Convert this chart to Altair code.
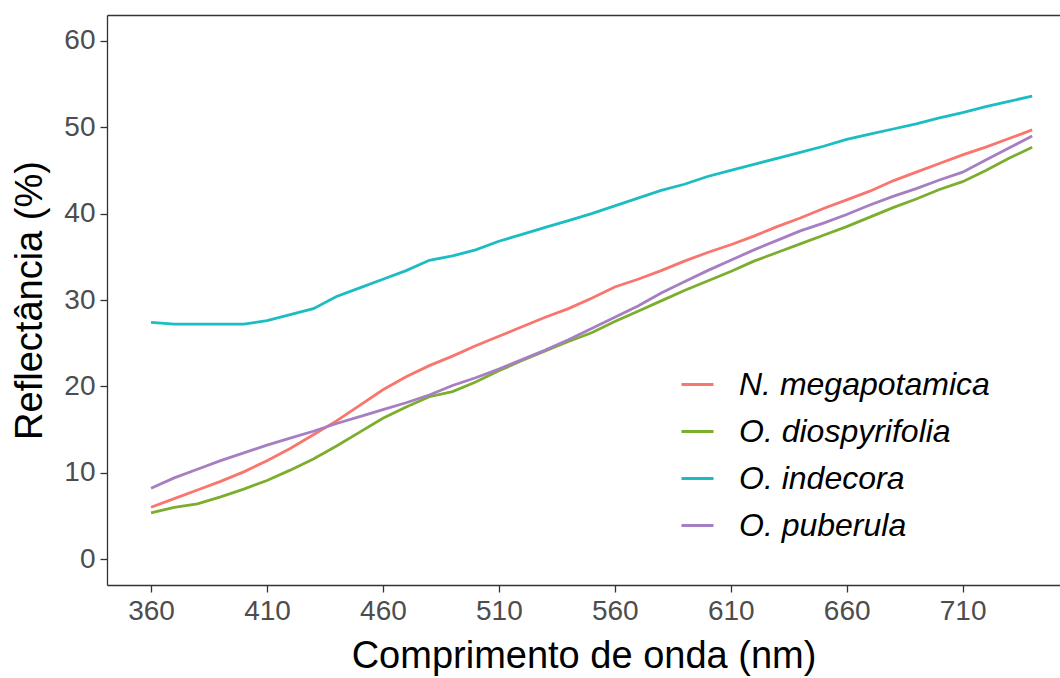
import altair as alt
import pandas as pd

nm = [360, 370, 380, 390, 400, 410, 420, 430, 440, 450, 460, 470, 480, 490, 500,
      510, 520, 530, 540, 550, 560, 570, 580, 590, 600, 610, 620, 630, 640, 650,
      660, 670, 680, 690, 700, 710, 720, 730, 740]

species = ["N. megapotamica", "O. diospyrifolia", "O. indecora", "O. puberula"]
colors = ["#F8766D", "#7CAE2E", "#1CBDC2", "#A67FC3"]

megapotamica = [6.0, 7.0, 8.0, 9.0, 10.1, 11.4, 12.8, 14.4, 16.0, 17.8, 19.6, 21.1, 22.4, 23.5, 24.7,
                25.8, 26.9, 28.0, 29.0, 30.2, 31.5, 32.4, 33.4, 34.5, 35.5, 36.4, 37.4, 38.5, 39.5, 40.6,
                41.6, 42.6, 43.8, 44.8, 45.8, 46.8, 47.7, 48.7, 49.7]
diospyrifolia = [5.35, 6.0, 6.4, 7.2, 8.1, 9.1, 10.3, 11.6, 13.1, 14.7, 16.3, 17.6, 18.8, 19.4, 20.5,
                 21.8, 23.0, 24.1, 25.2, 26.2, 27.5, 28.7, 29.9, 31.1, 32.2, 33.3, 34.5, 35.5, 36.5, 37.5,
                 38.5, 39.6, 40.7, 41.7, 42.8, 43.7, 45.0, 46.4, 47.7]
indecora = [27.4, 27.2, 27.2, 27.2, 27.2, 27.6, 28.3, 29.0, 30.4, 31.4, 32.4, 33.4, 34.6, 35.1, 35.8,
            36.8, 37.6, 38.4, 39.2, 40.0, 40.9, 41.8, 42.7, 43.4, 44.3, 45.0, 45.7, 46.4, 47.1, 47.8,
            48.6, 49.2, 49.8, 50.4, 51.1, 51.7, 52.4, 53.0, 53.6]
puberula = [8.2, 9.4, 10.4, 11.4, 12.3, 13.2, 14.0, 14.8, 15.7, 16.5, 17.3, 18.1, 19.0, 20.1, 21.0,
            22.0, 23.1, 24.2, 25.4, 26.7, 28.0, 29.3, 30.8, 32.1, 33.4, 34.6, 35.8, 36.9, 38.0, 38.9,
            39.9, 41.0, 42.0, 42.9, 43.9, 44.8, 46.2, 47.6, 49.0]

x_ticks = [360, 410, 460, 510, 560, 610, 660, 710]
y_ticks = [0, 10, 20, 30, 40, 50, 60]

rows = []
for sp, vals in zip(species, [megapotamica, diospyrifolia, indecora, puberula]):
    for w, v in zip(nm, vals):
        rows.append({"nm": w, "val": v, "sp": sp})
df = pd.DataFrame(rows)

FONT = "Liberation Sans"
xscale = alt.Scale(domain=[341, 752], nice=False, zero=False)
yscale = alt.Scale(domain=[-3, 63], nice=False, zero=False)

lines = alt.Chart(df).mark_line(strokeWidth=2.8).encode(
    x=alt.X("nm:Q", scale=xscale,
            axis=alt.Axis(values=x_ticks, title="Comprimento de onda (nm)", grid=False,
                          tickSize=7, labelPadding=5, titlePadding=12)),
    y=alt.Y("val:Q", scale=yscale,
            axis=alt.Axis(values=y_ticks, title="Reflectância (%)", grid=False,
                          tickSize=7, labelPadding=5, titlePadding=14)),
    color=alt.Color("sp:N", scale=alt.Scale(domain=species, range=colors),
                    legend=alt.Legend(title=None, orient="none", legendX=573, legendY=352,
                                      symbolType="stroke", symbolSize=1024, symbolStrokeWidth=3,
                                      labelFontSize=32, labelFontStyle="italic", labelColor="black",
                                      labelFont=FONT, labelOffset=24, rowPadding=13, padding=0,
                                      labelLimit=400)),
)

top = alt.Chart(df).mark_line(opacity=0).encode(
    x=alt.X("nm:Q", scale=xscale,
            axis=alt.Axis(orient="top", labels=False, ticks=False, title=None, grid=False)),
)

chart = alt.layer(lines, top).resolve_axis(x="independent").properties(
    width=953, height=570,
    autosize=alt.AutoSizeParams(type="none"),
    padding={"left": 107, "top": 15, "right": 0, "bottom": 93},
    background="white",
).configure_view(stroke=None).configure_axis(
    domainColor="#333333", domainWidth=1.3, tickColor="#333333", tickWidth=1.3,
    labelColor="#4D4D4D", labelFont=FONT, labelFontSize=28,
    titleColor="black", titleFont=FONT, titleFontSize=38, titleFontWeight="normal",
)

chart.save("out.html", embed_options={"renderer": "svg", "actions": False})
